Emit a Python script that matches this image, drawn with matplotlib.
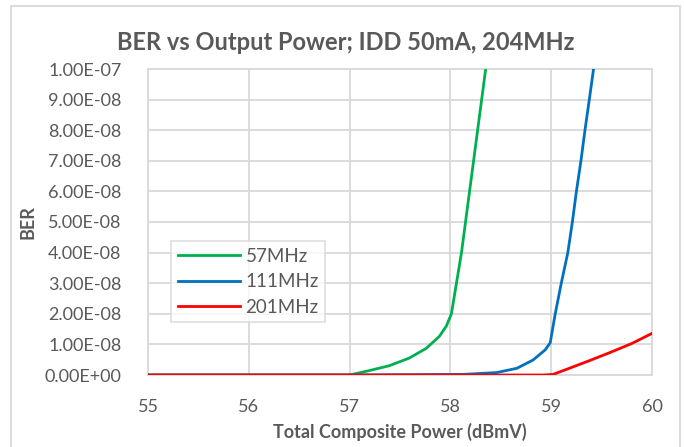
import matplotlib
matplotlib.use("Agg")
import matplotlib.pyplot as plt
from matplotlib.patches import Rectangle

# Data (x in dBmV, BER)
x_57 = [55.0, 56.0, 57.0, 57.19, 57.39, 57.59, 57.76, 57.89, 57.96, 58.01, 58.06,
        58.11, 58.15, 58.19, 58.23, 58.27, 58.31, 58.35]
y_57 = [0.0, 0.0, 0.0, 0.14e-8, 0.30e-8, 0.55e-8, 0.87e-8, 1.26e-8, 1.6e-8, 2.0e-8, 3.0e-8,
        4.0e-8, 5.0e-8, 6.0e-8, 7.0e-8, 8.0e-8, 9.0e-8, 10.0e-8]

x_111 = [55.0, 57.0, 58.13, 58.46, 58.66, 58.82, 58.94, 58.99, 59.04, 59.10,
         59.165, 59.21, 59.25, 59.295, 59.335, 59.378, 59.42]
y_111 = [0.0, 0.0, 0.02e-8, 0.08e-8, 0.22e-8, 0.49e-8, 0.82e-8, 1.05e-8, 2.0e-8, 3.0e-8,
         4.0e-8, 5.0e-8, 6.0e-8, 7.0e-8, 8.0e-8, 9.0e-8, 10.0e-8]

x_201 = [55.0, 56.0, 57.0, 58.0, 58.92, 59.02, 59.18, 59.38, 59.58, 59.80, 60.0]
y_201 = [0.0, 0.0, 0.0, 0.0, 0.0, 0.02e-8, 0.22e-8, 0.47e-8, 0.73e-8, 1.03e-8, 1.36e-8]

labels = ["57MHz", "111MHz", "201MHz"]
colors = ["#00b050", "#0070c0", "#ff0000"]

x_ticks = [55, 56, 57, 58, 59, 60]
y_ticks = [i * 1e-8 for i in range(11)]
y_tick_labels = ["0.00E+00", "1.00E-08", "2.00E-08", "3.00E-08", "4.00E-08",
                 "5.00E-08", "6.00E-08", "7.00E-08", "8.00E-08", "9.00E-08", "1.00E-07"]

plt.rcParams['font.family'] = ['Lato', 'DejaVu Sans']
txt = "#595959"
grid = "#d9d9d9"

fig = plt.figure(figsize=(6.84, 4.47), dpi=100)
fig.patch.set_facecolor("white")
fig.add_artist(Rectangle((11 / 684, -0.05), (680 - 11) / 684, 1.05 - 6 / 447,
                         transform=fig.transFigure, fill=False,
                         edgecolor=grid, linewidth=1.3))

ax = fig.add_axes([148 / 684, 1 - 375 / 447, (652 - 148) / 684, (375 - 69) / 447])
for xs, ys, lab, c in zip([x_57, x_111, x_201], [y_57, y_111, y_201], labels, colors):
    ax.plot(xs, ys, color=c, linewidth=2, label=lab, clip_on=True, zorder=3,
            solid_joinstyle='round')

ax.set_xlim(55, 60)
ax.set_ylim(0, 1e-7)
ax.set_xticks(x_ticks)
ax.set_xticklabels([str(t) for t in x_ticks])
ax.set_yticks(y_ticks)
ax.set_yticklabels(y_tick_labels)
ax.grid(True, color=grid, linewidth=1.3)
ax.set_axisbelow(True)
for s in ax.spines.values():
    s.set_color(grid)
    s.set_linewidth(1.3)
ax.tick_params(length=0, labelsize=13, colors=txt)
ax.tick_params(axis='y', pad=19)
ax.tick_params(axis='x', pad=17)

ax.set_xlabel("Total Composite Power (dBmV)", fontsize=13, fontweight='bold', color=txt, labelpad=6)
fig.text(28 / 684, 1 - 222 / 447, "BER", rotation=90, ha='center', va='center',
         fontsize=13, fontweight='bold', color=txt)
fig.text(346 / 684, 1 - 43 / 447, "BER vs Output Power; IDD 50mA, 204MHz",
         ha='center', va='center', fontsize=17, fontweight='bold', color=txt)

leg = ax.legend(loc='upper left', bbox_to_anchor=((162 - 148) / 504, (375 - 232) / 306),
                frameon=True, fancybox=False, fontsize=13.5, handlelength=3.3,
                borderpad=0.35, labelspacing=0.45, handletextpad=0.3)
leg.get_frame().set_edgecolor(grid)
leg.get_frame().set_linewidth(1.3)
for t in leg.get_texts():
    t.set_color(txt)

fig.savefig("out.png", dpi=100, facecolor="white")
